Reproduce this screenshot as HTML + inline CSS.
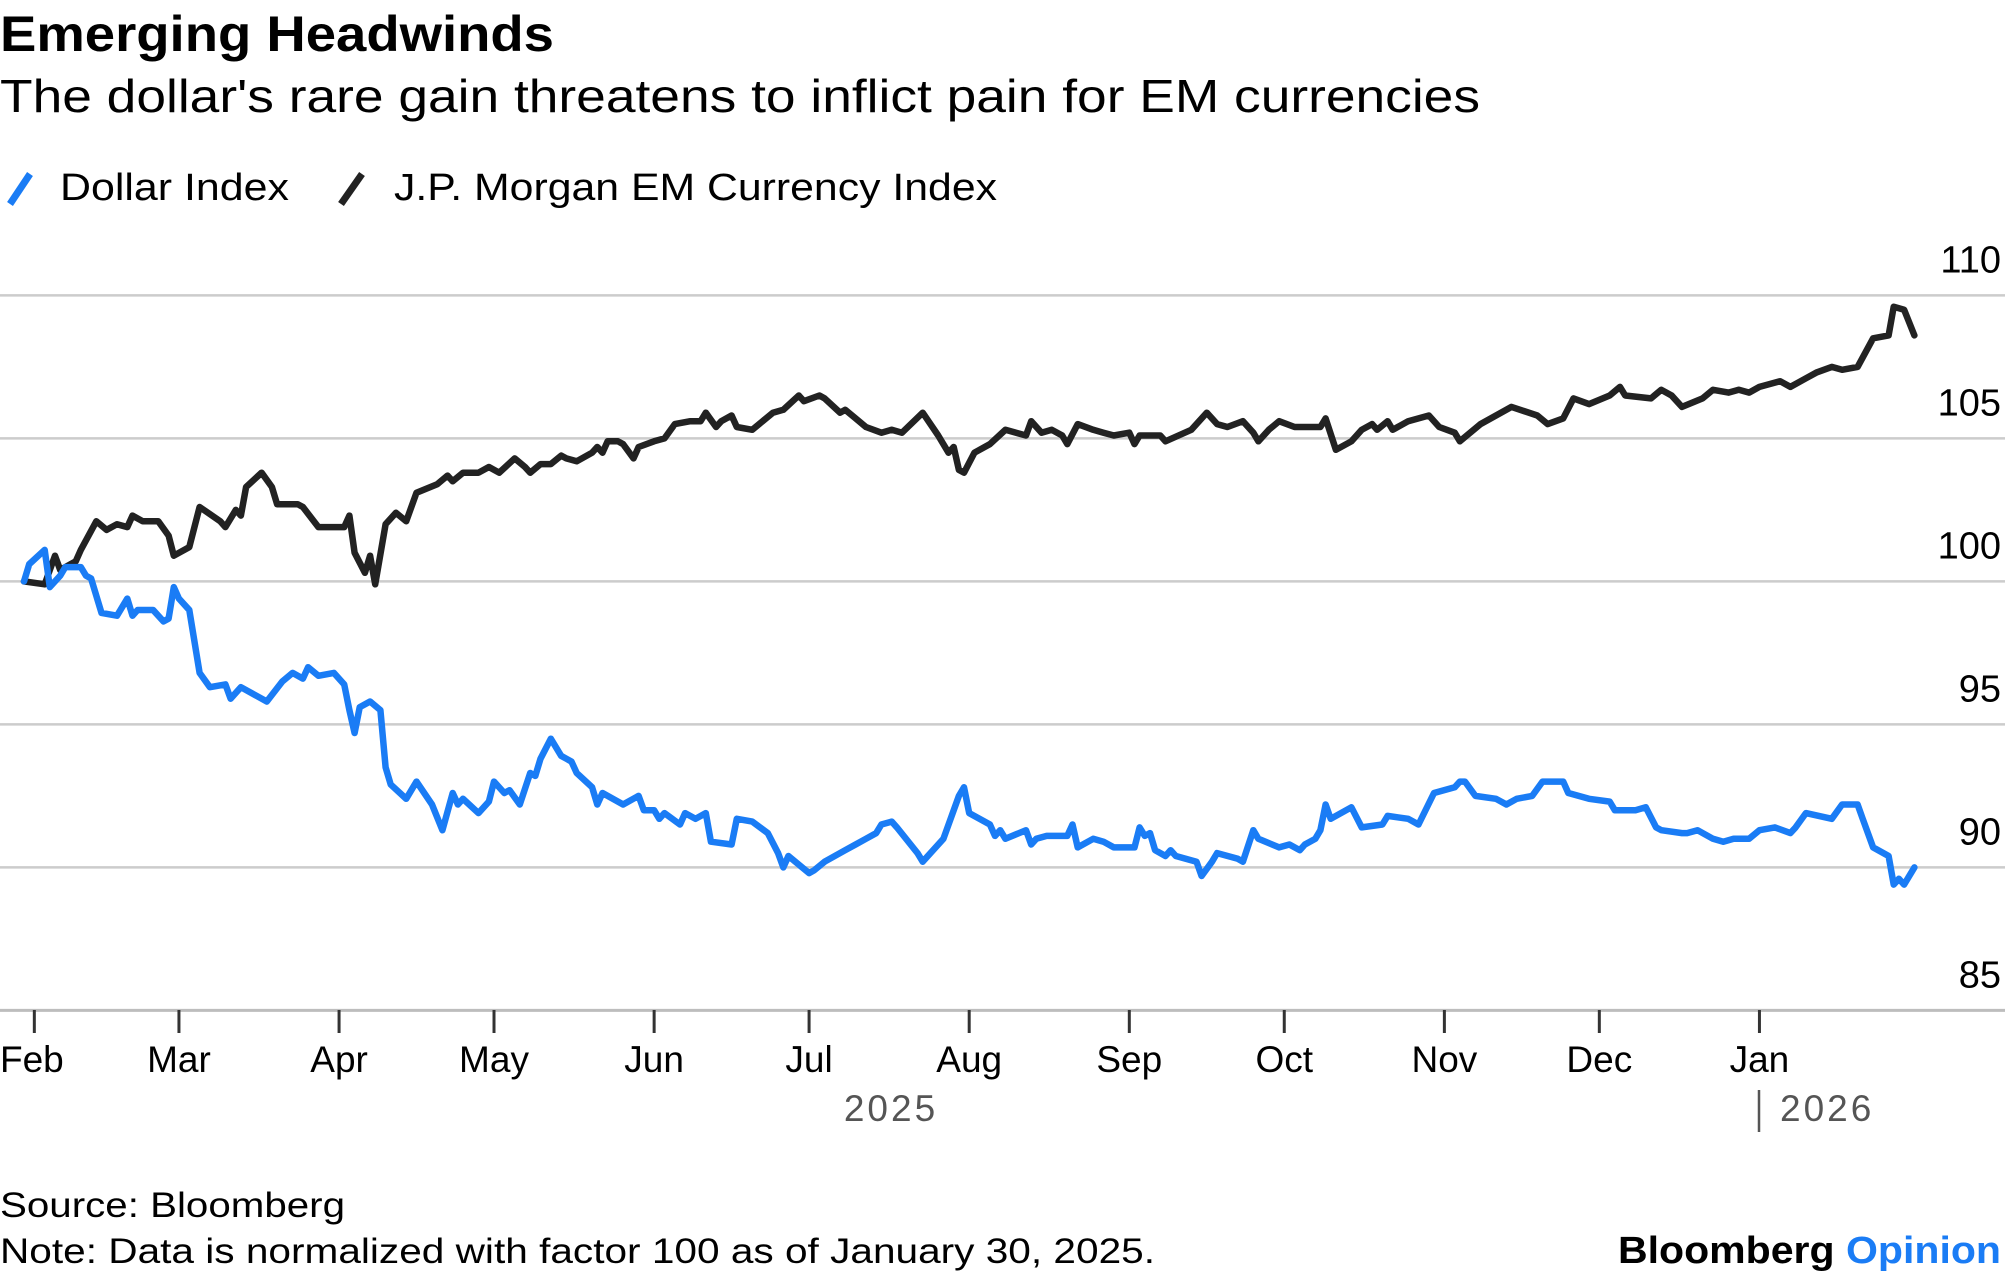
<!DOCTYPE html>
<html>
<head>
<meta charset="utf-8">
<style>
html,body{margin:0;padding:0;background:#fff;}
svg{display:block;}
text{font-family:"Liberation Sans",Arial,sans-serif;}
</style>
</head>
<body>
<svg id="chart" width="2005" height="1278" viewBox="0 0 2005 1278" xmlns="http://www.w3.org/2000/svg">
  <text x="0" y="51" font-size="50" font-weight="bold" fill="#000" textLength="554" lengthAdjust="spacingAndGlyphs">Emerging Headwinds</text>
  <text x="0" y="112" font-size="46" fill="#000" textLength="1480" lengthAdjust="spacingAndGlyphs">The dollar's rare gain threatens to inflict pain for EM currencies</text>

  <g>
    <g>
      <line x1="10" y1="204" x2="30" y2="174" stroke="#1a7cf5" stroke-width="7"/>
      <text x="60" y="200" font-size="38" fill="#000" textLength="229" lengthAdjust="spacingAndGlyphs">Dollar Index</text>
    </g>
    <g>
      <line x1="341" y1="204" x2="362" y2="174" stroke="#222" stroke-width="7"/>
      <text x="394" y="200" font-size="38" fill="#000" textLength="603" lengthAdjust="spacingAndGlyphs">J.P. Morgan EM Currency Index</text>
    </g>
  </g>

  <g id="grid"></g>
  <g id="yaxis"></g>
  <g id="xaxis"></g>
  <g id="series"></g>

  <g>
    <text x="891" y="1121" font-size="37" fill="#555" text-anchor="middle" letter-spacing="3">2025</text>
    <line x1="1759" y1="1090" x2="1759" y2="1132" stroke="#555" stroke-width="2.5"/>
    <text x="1780" y="1121" font-size="37" fill="#555" letter-spacing="3">2026</text>
  </g>

  <text x="0" y="1217" font-size="35" fill="#000" textLength="345" lengthAdjust="spacingAndGlyphs">Source: Bloomberg</text>
  <text x="0" y="1263" font-size="35" fill="#000" textLength="1155" lengthAdjust="spacingAndGlyphs">Note: Data is normalized with factor 100 as of January 30, 2025.</text>
  <text x="1618" y="1263" font-size="38" font-weight="bold" fill="#000" textLength="383" lengthAdjust="spacingAndGlyphs">Bloomberg <tspan fill="#1a7cf5">Opinion</tspan></text>
</svg>
<script>
// ---- data (days since Jan 30, 2025) ----
const yTicks = [110, 105, 100, 95, 90, 85];
const monthLabels = ["Feb","Mar","Apr","May","Jun","Jul","Aug","Sep","Oct","Nov","Dec","Jan"];
const monthDays = [2,30,61,91,122,152,183,214,244,275,305,336];

const dollarDays = [0,1,4,5,7,8,11,12,13,15,18,20,21,22,25,27,28,29,30,32,34,36,39,40,42,47,50,52,54,55,57,60,62,63,64,65,67,69,70,71,74,76,79,81,83,84,85,88,90,91,93,94,96,98,99,100,102,104,105,106,107,110,111,112,116,119,120,122,123,124,127,128,130,132,133,137,138,141,144,146,147,148,152,153,155,159,161,163,165,166,168,169,173,174,178,181,182,183,187,188,189,190,194,195,196,198,200,202,203,204,207,209,211,215,216,217,218,219,221,222,223,227,228,230,231,235,236,238,239,243,245,247,248,250,251,252,253,256,257,259,263,264,268,270,273,277,278,279,281,285,287,289,292,294,298,299,303,307,308,312,314,316,317,321,322,324,327,329,331,334,336,339,342,343,345,350,352,355,356,358,361,362,363,364,366];
const dollarValues = [100,100.6,101.1,99.8,100.2,100.5,100.5,100.2,100.1,98.9,98.8,99.4,98.8,99.0,99.0,98.6,98.7,99.8,99.4,99.0,96.8,96.3,96.4,95.9,96.3,95.8,96.5,96.8,96.6,97.0,96.7,96.8,96.4,95.5,94.7,95.6,95.8,95.5,93.5,92.9,92.4,93.0,92.2,91.3,92.6,92.2,92.4,91.9,92.3,93.0,92.6,92.7,92.2,93.3,93.2,93.8,94.5,93.9,93.8,93.7,93.3,92.8,92.2,92.6,92.2,92.5,92.0,92.0,91.7,91.9,91.5,91.9,91.7,91.9,90.9,90.8,91.7,91.6,91.2,90.5,90.0,90.4,89.8,89.9,90.2,90.6,90.8,91.0,91.2,91.5,91.6,91.4,90.5,90.2,91.0,92.5,92.8,91.9,91.5,91.1,91.3,91.0,91.3,90.8,91.0,91.1,91.1,91.1,91.5,90.7,91.0,90.9,90.7,90.7,91.4,91.1,91.2,90.6,90.4,90.6,90.4,90.2,89.7,90.2,90.5,90.3,90.2,91.3,91.0,90.7,90.8,90.6,90.8,91.0,91.3,92.2,91.7,92.0,92.1,91.4,91.5,91.8,91.7,91.5,92.6,92.8,93.0,93.0,92.5,92.4,92.2,92.4,92.5,93.0,93.0,92.6,92.4,92.3,92.0,92.0,92.1,91.4,91.3,91.2,91.2,91.3,91.0,90.9,91.0,91.0,91.3,91.4,91.2,91.4,91.9,91.7,92.2,92.2,91.7,90.7,90.4,89.4,89.6,89.4,90.0];

const emDays = [0,4,6,7,10,11,14,16,18,20,21,23,26,28,29,32,34,38,39,41,42,43,46,48,49,53,54,57,58,62,63,64,66,67,68,70,72,74,76,80,82,83,85,88,90,92,95,97,98,100,102,104,105,107,110,111,112,113,115,116,118,119,122,124,126,129,131,132,134,135,137,138,141,143,145,147,150,151,154,155,158,159,161,163,166,168,170,174,177,179,180,181,182,184,187,190,194,195,197,199,201,202,204,207,209,211,214,215,216,220,221,226,228,229,231,233,236,238,239,241,243,246,251,252,254,257,259,261,262,264,265,268,272,274,277,278,282,285,288,293,295,298,300,303,307,309,310,315,317,319,321,325,327,330,332,334,336,340,342,345,347,350,352,355,358,361,362,364,366];
const emValues = [100,99.9,100.9,100.4,100.7,101.1,102.1,101.8,102.0,101.9,102.3,102.1,102.1,101.6,100.9,101.2,102.6,102.1,101.9,102.5,102.3,103.3,103.8,103.3,102.7,102.7,102.6,101.9,101.9,101.9,102.3,101.0,100.3,100.9,99.9,102.0,102.4,102.1,103.1,103.4,103.7,103.5,103.8,103.8,104.0,103.8,104.3,104.0,103.8,104.1,104.1,104.4,104.3,104.2,104.5,104.7,104.5,104.9,104.9,104.8,104.3,104.7,104.9,105.0,105.5,105.6,105.6,105.9,105.4,105.6,105.8,105.4,105.3,105.6,105.9,106.0,106.5,106.3,106.5,106.4,105.9,106.0,105.7,105.4,105.2,105.3,105.2,105.9,105.1,104.5,104.7,103.9,103.8,104.5,104.8,105.3,105.1,105.6,105.2,105.3,105.1,104.8,105.5,105.3,105.2,105.1,105.2,104.8,105.1,105.1,104.9,105.3,105.7,105.9,105.5,105.4,105.6,105.2,104.9,105.3,105.6,105.4,105.4,105.7,104.6,104.9,105.3,105.5,105.3,105.6,105.3,105.6,105.8,105.4,105.2,104.9,105.5,105.8,106.1,105.8,105.5,105.7,106.4,106.2,106.5,106.8,106.5,106.4,106.7,106.5,106.1,106.4,106.7,106.6,106.7,106.6,106.8,107.0,106.8,107.1,107.3,107.5,107.4,107.5,108.5,108.6,109.6,109.5,108.6];

// ---- scales ----
function xOf(d){ return 24 + d * 5.165; }
function yOf(v){ return 295.4 + (110 - v) * 28.6; }
const NS = "http://www.w3.org/2000/svg";
function mk(tag, attrs, parent){
  const el = document.createElementNS(NS, tag);
  for (const k in attrs) el.setAttribute(k, attrs[k]);
  parent.appendChild(el);
  return el;
}
const grid = document.getElementById("grid");
const yaxis = document.getElementById("yaxis");
const xaxis = document.getElementById("xaxis");
const series = document.getElementById("series");

yTicks.forEach(function(t){
  const y = yOf(t);
  const ln = mk("line", {x1:0, x2:2005, y1:y, y2:y, stroke: t===85 ? "#bdbdbd" : "#cccccc", "stroke-width": t===85 ? 3 : 2.5}, grid);
  
  
  const tx = mk("text", {x:2001, y:y-23, "font-size":38, fill:"#000", "text-anchor":"end"}, yaxis);
  tx.textContent = String(t);
  
  
});

monthLabels.forEach(function(m, i){
  const x = xOf(monthDays[i]);
  const tk = mk("line", {x1:x, x2:x, y1:1010, y2:1033, stroke:"#333", "stroke-width":3}, xaxis);
  
  
  const tx = mk("text", {x: i===0 ? 0 : x, y:1072, "font-size":37, fill:"#000", "text-anchor": i===0 ? "start" : "middle"}, xaxis);
  tx.textContent = m;
  
  
});

function drawLine(days, vals, color, name){
  const pts = days.map(function(d, i){ return xOf(d).toFixed(1) + "," + yOf(vals[i]).toFixed(1); }).join(" ");
  const pl = mk("polyline", {points: pts, fill:"none", stroke: color, "stroke-width":6.5, "stroke-linejoin":"round", "stroke-linecap":"round"}, series);
  
  
}
drawLine(emDays, emValues, "#222222", "em-currency-index-line");
drawLine(dollarDays, dollarValues, "#1a7cf5", "dollar-index-line");
</script>
</body>
</html>
